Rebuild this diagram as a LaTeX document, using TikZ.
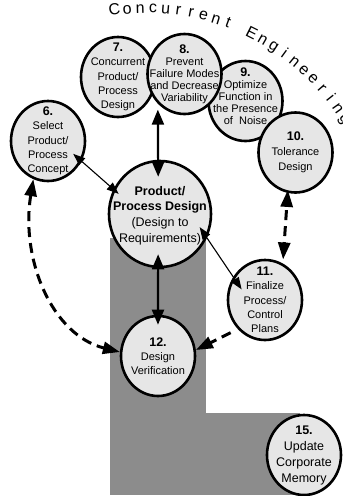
\documentclass[tikz,border=0pt]{standalone}
\usepackage{fontspec}
\setmainfont{Liberation Sans}
\usetikzlibrary{shapes.geometric,arrows.meta}
\definecolor{bubfill}{HTML}{E6E6E6}
\definecolor{band}{HTML}{8C8C8C}
\newcommand\cnum[1]{{\fontsize{12.5}{14}\selectfont\bfseries #1}}
\begin{document}
\begin{tikzpicture}[x=1pt,y=-1pt,
  bub/.style={ellipse,draw=black,line width=2.6pt,fill=bubfill,minimum width=74pt,minimum height=80pt,inner sep=0pt},
  bigbub/.style={bub,minimum width=102pt,minimum height=106pt},
  lbl/.style={align=center,inner sep=0pt,font=\fontsize{11}{14.3}\selectfont},
  tightlbl/.style={lbl,font=\fontsize{11}{11.9}\selectfont},
  biglbl/.style={lbl,font=\fontsize{12.5}{15.7}\selectfont},
  thk/.style={line width=2.2pt,<->,>={Triangle[length=15pt,width=12pt]}},
  thn/.style={line width=1.1pt,<->,>={Triangle[length=12pt,width=9pt]}},
  dsh/.style={line width=3pt,dash pattern=on 10pt off 6pt,>={Triangle[length=17pt,width=12pt]}},
  arcl/.style={font=\fontsize{16}{16}\selectfont,inner sep=0pt,anchor=base}
]
\useasboundingbox (0,0) rectangle (343,496);
% grey band
\fill[band] (110,238) rectangle (206,495);
\fill[band] (206,413) rectangle (300,495);
% bubbles
\node[bub] (c9) at (245.5,101) {};
\node[bub] (c7) at (118,77) {};
\node[bub] (c8) at (184.5,74) {};
\node[bub] (c10) at (295.5,152.5) {};
\node[bub] (c6) at (48,141) {};
\node[bigbub] (cen) at (160,214) {};
\node[bub] (c11) at (265,300) {};
\node[bub] (c12) at (158,356) {};
\node[bub] (c15) at (304,455) {};
% connectors
\draw[thk,shorten <=-17pt,shorten >=6pt] (cen.92) -- (c8.228);
\draw[thk,shorten <=-14pt,shorten >=-10pt] (cen.268) -- (c12.north);
\draw[thn,shorten <=-11pt,shorten >=-7pt] (c6.329) -- (cen.152);
\draw[thn,shorten <=-13pt,shorten >=-15pt] (cen.333) -- (c11.144);
\draw[dsh,<->,dash phase=12pt,shorten <=-3pt,shorten >=4pt] (c10.259) -- (c11.64);
\draw[dsh,->,shorten <=8pt] (c11.227) -- (c12.9);
\draw[dsh,<->] (c6.249) .. controls +(-13,80) and +(-68,-17) .. (c12.174);
% labels
\node[lbl] (t7) at (c7) {\cnum{7.}\\Concurrent\\Product/\\Process\\Design};
\node[tightlbl] (t8) at (c8) {\cnum{8.}\\Prevent\\Failure Modes\\and Decrease\\Variability};
\node[tightlbl,yshift=5pt] (t9) at (c9) {\cnum{9.}\\Optimize\\Function in\\the Presence\\of~ Noise};
\node[lbl,font=\fontsize{11}{14.8}\selectfont] (t10) at (c10) {\cnum{10.}\\Tolerance\\Design};
\node[lbl] (t6) at (c6) {\cnum{6.}\\Select\\Product/\\Process\\Concept};
\node[biglbl,yshift=-1.5pt] (tcen) at (cen) {\textbf{Product/}\\\textbf{Process Design}\\(Design to\\Requirements)};
\node[lbl] (t11) at (c11) {\cnum{11.}\\Finalize\\Process/\\Control\\Plans};
\node[lbl] (t12) at (c12) {\cnum{12.}\\Design\\Verification};
\node[lbl,font=\fontsize{12.5}{16}\selectfont] (t15) at (c15) {\cnum{15.}\\Update\\Corporate\\Memory};
% arc title
\foreach \ch [count=\k from 0] in {C,o,n,c,u,r,r,e,n,t,{},E,n,g,i,n,e,e,r,i,n,g}{
  \pgfmathsetmacro\ang{97.7-3.13*\k}
  \node[arcl,rotate=\ang-90] (ce\k) at ({146+230*cos(\ang)},{243-230*sin(\ang)}) {\ch};
}
\end{tikzpicture}
\end{document}
